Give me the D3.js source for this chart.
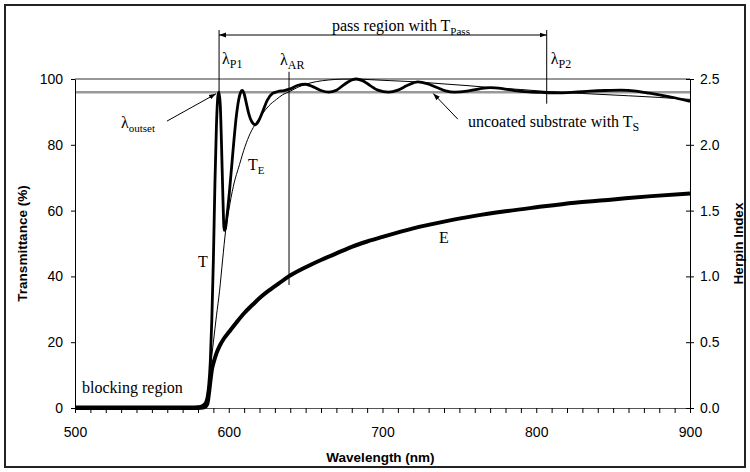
<!DOCTYPE html>
<html>
<head>
<meta charset="utf-8">
<script src="https://cdn.jsdelivr.net/npm/d3@7"></script>
<style>
body { margin: 0; background: #fff; }
svg { display: block; }
.axis text { font-family: "Liberation Sans", Arial, sans-serif; font-size: 14px; fill: #000; }
.title { font-family: "Liberation Sans", Arial, sans-serif; font-size: 13.5px; font-weight: bold; }
.note { font-family: "Liberation Serif", "Times New Roman", serif; font-size: 16px; }
</style>
</head>
<body>
<div id="chart"></div>
<script>
// measured transmittance T (%), [wavelength nm, value]
var T_curve = [
    [500,0.3],[540,0.3],[575,0.3],[580,0.4],[583,0.8],[585,1.8],[586,3.5],[587,7],
    [588,14],[589,27],[590,45],[591,68],[592,86],[593,95],[593.7,96],[594.5,92],
    [595.3,80],[596.2,64],[597,54],[597.8,54.5],[599,59],[600.5,66],[602,74],
    [603.5,82],[605,89],[606.5,93.8],[607.8,96],[608.8,96.5],[610,95.5],[611.5,92.5],
    [613,89.5],[615,87],[617.3,86.1],[619.5,87.3],[622,90],[625,93.5],[628.5,95.6],
    [632,96.2],[636,96.5],[640,97],[645,98.1],[650,98.4],[655,97.6],[660,96.5],
    [665,96],[670,96.6],[675,98.3],[680,99.7],[683,100],[687,99.5],[692,98],
    [697,96.6],[704,96],[710,96.6],[716,98],[723,99.1],[729,98.6],[735,97.5],
    [741,96.4],[747,96],[755,96.3],[763,97],[770,97.4],[778,97.1],[786,96.5],
    [795,96.1],[805,95.9],[815,95.8],[825,96],[835,96.3],[845,96.5],[855,96.6],
    [865,96.3],[872,95.8],[880,95.2],[890,94.3],[900,93.2]
];

// envelope T_E (%)
var TE_curve = [
    [584,0],[585.5,2],[587,7],[588,11.6],[590,20],[592,28],[594,35.5],[596,45],
    [598,54],[600,60],[603,67.4],[607,74],[610.6,79.5],[614,83.5],[618,86.8],
    [622,89.5],[626,91.8],[631,93.8],[635,95.2],[640,96.3],[645,97.5],[650,98.4],
    [657,99.2],[665,99.7],[673,99.95],[682,100],[692,99.8],[705,99.5],[723,99.1],
    [740,98.5],[755,98],[770,97.4],[790,96.8],[807,96.2],[830,95.6],[860,94.9],
    [880,94.4],[900,93.8]
];

// Herpin index E (right axis)
var E_curve = [
    [500,0],[540,0],[580,0],[584,0.005],[586,0.03],[587,0.1],[588,0.2],[589,0.29],
    [590.5,0.36],[592,0.415],[594,0.47],[597,0.53],[600,0.575],[605,0.65],
    [610,0.72],[616,0.79],[621,0.845],[627,0.9],[633,0.95],[639,1.0],[650,1.07],
    [660,1.125],[670,1.175],[680,1.225],[690,1.265],[700,1.3],[720,1.365],
    [740,1.416],[760,1.46],[780,1.495],[800,1.525],[825,1.56],[850,1.585],
    [875,1.61],[900,1.63]
];

var T_substrate = 96;
var x_ticks = d3.range(500, 901, 10);
var x_labels = [500, 600, 700, 800, 900];
var yT_ticks = [0, 20, 40, 60, 80, 100];
var yE_ticks = [0, 0.5, 1.0, 1.5, 2.0, 2.5];

// special wavelengths
var lambda_P1 = 593.7;
var lambda_AR = 639.2;
var lambda_P2 = 806.8;

var width = 750, height = 472;
var svg = d3.select("#chart").append("svg")
    .attr("width", width)
    .attr("height", height);

var x = d3.scaleLinear().domain([500, 900]).range([75, 690]);
var yT = d3.scaleLinear().domain([0, 100]).range([408, 79]);
var yE = d3.scaleLinear().domain([0, 2.5]).range([408, 79]);

svg.append("defs").append("marker")
    .attr("id", "head")
    .attr("viewBox", "0 0 10 10")
    .attr("refX", 10).attr("refY", 5)
    .attr("markerWidth", 7).attr("markerHeight", 7)
    .attr("markerUnits", "userSpaceOnUse")
    .attr("orient", "auto-start-reverse")
    .append("path")
    .attr("d", "M0,1.5L10,5L0,8.5z")
    .attr("fill", "#000");

// outer frame
svg.append("rect")
    .attr("x", 5).attr("y", 5)
    .attr("width", 740).attr("height", 462)
    .attr("fill", "none")
    .attr("stroke", "#222")
    .attr("stroke-width", 2);

// line at 100 %
svg.append("line")
    .attr("x1", x(500)).attr("x2", x(900))
    .attr("y1", yT(100)).attr("y2", yT(100))
    .attr("stroke", "#333").attr("stroke-width", 1);

// uncoated substrate
svg.append("line")
    .attr("x1", x(500)).attr("x2", x(900))
    .attr("y1", yT(T_substrate)).attr("y2", yT(T_substrate))
    .attr("stroke", "#999").attr("stroke-width", 2.5);

// axes
var xAxis = svg.append("g")
    .attr("class", "axis")
    .attr("transform", "translate(0," + yT(0) + ")")
    .call(d3.axisBottom(x)
          .tickValues(x_ticks)
          .tickSizeInner(5).tickSizeOuter(0)
          .tickPadding(14)
          .tickFormat(function(d){ return x_labels.indexOf(d) >= 0 ? d : ""; }));
xAxis.select(".domain").attr("stroke", "#555");

svg.append("g")
    .attr("class", "axis")
    .attr("transform", "translate(" + x(500) + ",0)")
    .call(d3.axisLeft(yT)
          .tickValues(yT_ticks)
          .tickSizeInner(4).tickSizeOuter(0)
          .tickPadding(8));

var rAxis = svg.append("g")
    .attr("class", "axis")
    .attr("transform", "translate(" + x(900) + ",0)")
    .call(d3.axisRight(yE)
          .tickValues(yE_ticks)
          .tickSizeInner(4).tickSizeOuter(0)
          .tickPadding(6)
          .tickFormat(d3.format(".1f")));
rAxis.selectAll(".tick line").attr("x1", -4);

// curves
var lineT = d3.line()
    .x(function(d){ return x(d[0]); })
    .y(function(d){ return yT(d[1]); })
    .curve(d3.curveMonotoneX);
var lineE = d3.line()
    .x(function(d){ return x(d[0]); })
    .y(function(d){ return yE(d[1]); })
    .curve(d3.curveMonotoneX);

svg.append("path").datum(TE_curve)
    .attr("d", lineT)
    .attr("fill", "none").attr("stroke", "#000").attr("stroke-width", 1);

svg.append("path").datum(E_curve)
    .attr("d", lineE)
    .attr("fill", "none").attr("stroke", "#000").attr("stroke-width", 4)
    .attr("stroke-linejoin", "round");

svg.append("path").datum(T_curve)
    .attr("d", lineT)
    .attr("fill", "none").attr("stroke", "#000").attr("stroke-width", 2.8)
    .attr("stroke-linejoin", "round");

// marker lines
function vline(wl, y1, y2){
    svg.append("line")
        .attr("x1", x(wl)).attr("x2", x(wl))
        .attr("y1", y1).attr("y2", y2)
        .attr("stroke", "#000").attr("stroke-width", 1);
}
vline(lambda_P1, 30, yT(T_substrate));
vline(lambda_P2, 30, yT(92.5));
vline(lambda_AR, yT(102.2), yT(37.4));

// pass region arrow
svg.append("line")
    .attr("x1", x(lambda_P1)).attr("x2", x(lambda_P2))
    .attr("y1", 35).attr("y2", 35)
    .attr("stroke", "#000").attr("stroke-width", 1)
    .attr("marker-start", "url(#head)")
    .attr("marker-end", "url(#head)");

// text with subscript
function label(px, py, main, sub, subSize){
    var t = svg.append("text")
        .attr("class", "note")
        .attr("x", px).attr("y", py);
    t.append("tspan").text(main);
    if (sub) {
        t.append("tspan")
            .attr("dy", 4)
            .style("font-size", (subSize || 11) + "px")
            .text(sub);
    }
    return t;
}

label(332, 31, "pass region with T", "Pass", 11);
label(x(lambda_P1) + 3, 64, "\u03bb", "P1", 12);
label(x(lambda_AR) - 9, 65, "\u03bb", "AR", 12);
label(x(lambda_P2) + 4, 64, "\u03bb", "P2", 12);
label(121, 128, "\u03bb", "outset", 11);
label(468, 127, "uncoated substrate with T", "S", 12);
label(248, 170, "T", "E", 11);
label(198, 267, "T");
label(439, 243, "E");
label(82, 393, "blocking region");

// pointer arrows
function pointer(wl1, t1, wl2, t2){
    svg.append("line")
        .attr("x1", x(wl1)).attr("y1", yT(t1))
        .attr("x2", x(wl2)).attr("y2", yT(t2))
        .attr("stroke", "#000").attr("stroke-width", 1)
        .attr("marker-end", "url(#head)");
}
pointer(559.8, 87.2, 591.7, 95.5);
pointer(749, 87.8, 733, 95.6);

// axis titles
svg.append("text")
    .attr("class", "title")
    .attr("x", (x(500) + x(900)) / 2 - 2)
    .attr("y", 462)
    .attr("text-anchor", "middle")
    .text("Wavelength (nm)");

svg.append("text")
    .attr("class", "title")
    .attr("transform", "translate(27," + (yT(50)) + ") rotate(-90)")
    .attr("text-anchor", "middle")
    .text("Transmittance (%)");

svg.append("text")
    .attr("class", "title")
    .attr("transform", "translate(743," + (yT(50)) + ") rotate(-90)")
    .attr("text-anchor", "middle")
    .text("Herpin Index");
</script>
</body>
</html>
